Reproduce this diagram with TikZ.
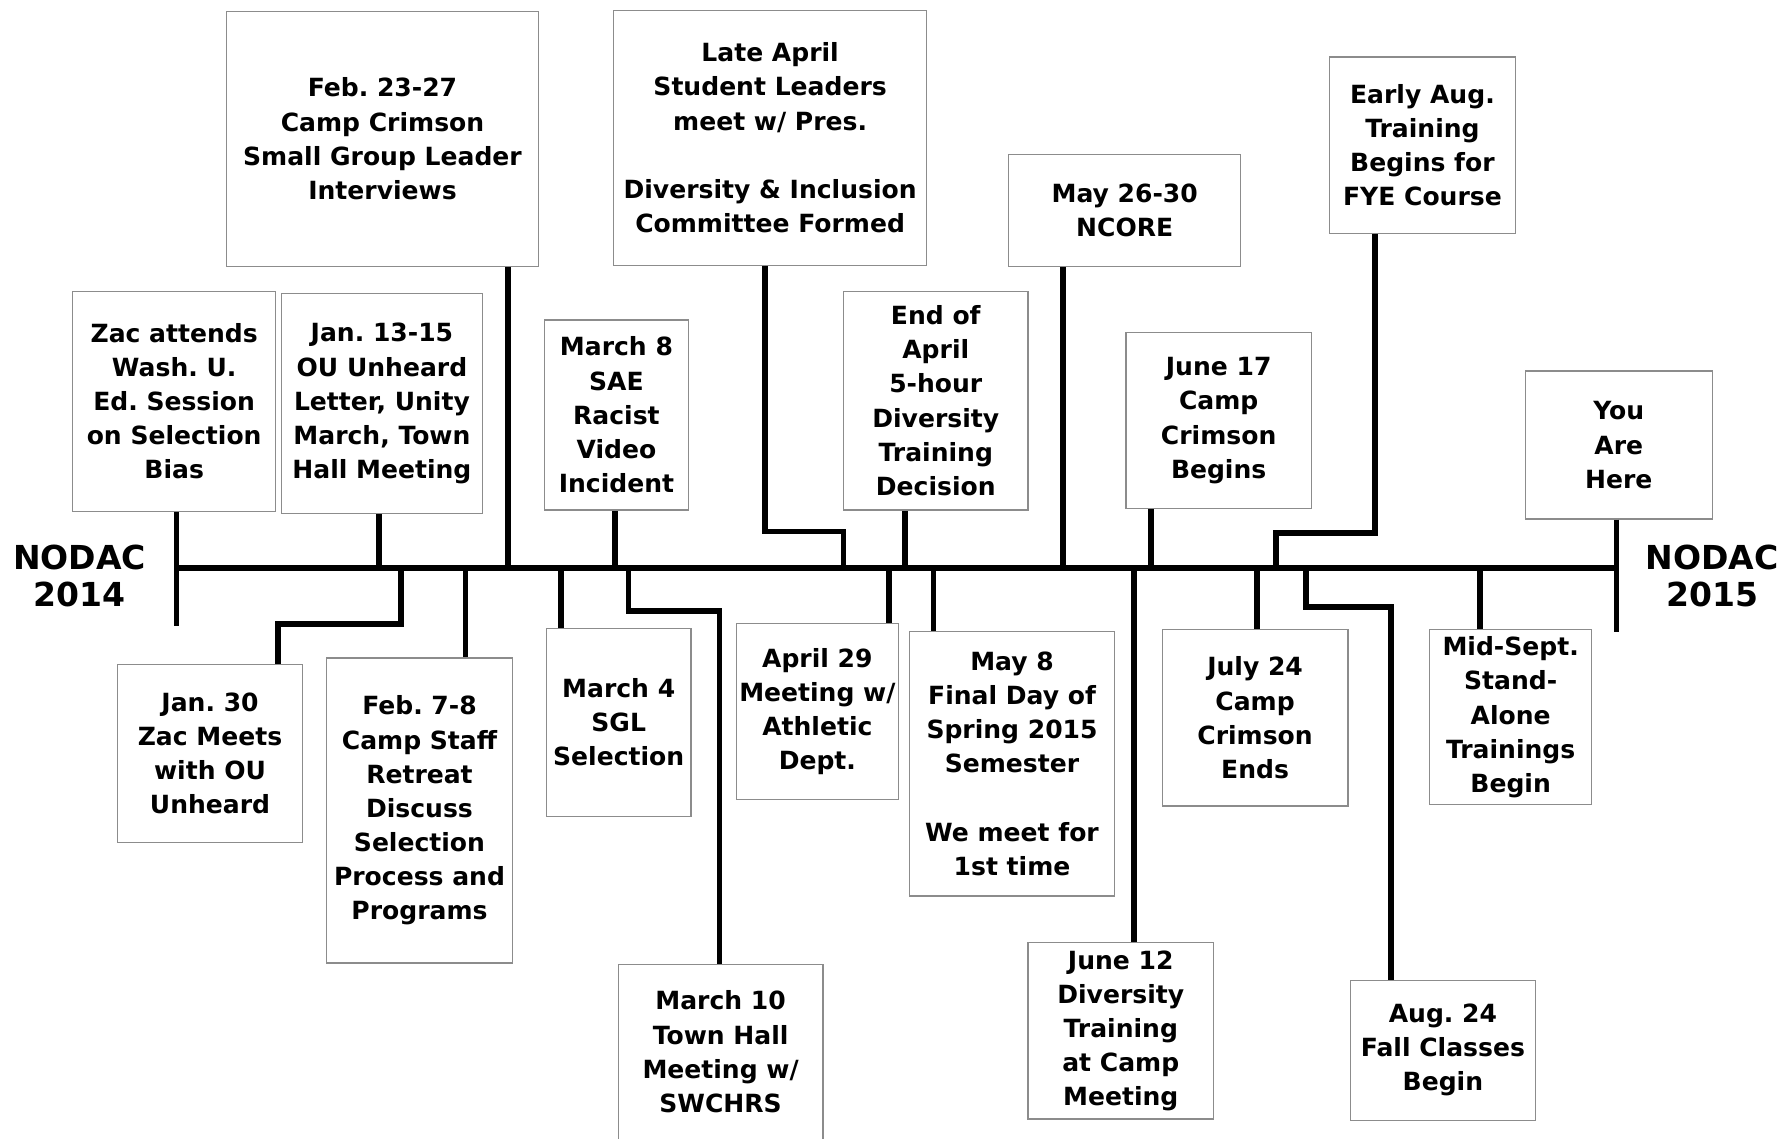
\documentclass[tikz,border=0pt]{standalone}
\usepackage{fontspec}
\setmainfont{DejaVu Sans}
\usepackage{tikz}
\usetikzlibrary{positioning,calc}
\definecolor{boxgray}{HTML}{8C8C8C}
\frenchspacing

\tikzset{
  evbox/.style={rectangle,draw=boxgray,line width=1.1pt,fill=white,inner sep=0pt,align=center,
    font=\bfseries\fontsize{22pt}{30pt}\selectfont},
  tline/.style={line width=5pt,black},
  endlbl/.style={align=center,font=\bfseries\fontsize{29pt}{33pt}\selectfont},
}

\begin{document}
\begin{tikzpicture}[x=1pt,y=-1pt]
  \path[fill=white,use as bounding box] (0,0) rectangle (1568,1000);
  % events above the line
  \node[evbox,minimum width=178pt,minimum height=193pt] (zac) at (153,352.5) {Zac attends\\Wash. U.\\Ed. Session\\on Selection\\Bias};
  \node[evbox,minimum width=177pt,minimum height=193pt] (ouletter) at (335.5,354.5) {Jan. 13-15\\OU Unheard\\Letter, Unity\\March, Town\\Hall Meeting};
  \node[evbox,minimum width=274pt,minimum height=224pt] (camp) at (336,122) {Feb. 23-27\\Camp Crimson\\Small Group Leader\\Interviews};
  \node[evbox,minimum width=127pt,minimum height=167pt] (sae) at (541.5,364.5) {March 8\\SAE\\Racist\\Video\\Incident};
  \node[evbox,minimum width=275pt,minimum height=224pt] (committee) at (676.5,121) {Late April\\Student Leaders\\meet w/ Pres.\\[30pt]Diversity \& Inclusion\\Committee Formed};
  \node[evbox,minimum width=162pt,minimum height=192pt] (decision) at (822,352) {End of\\April\\5-hour\\Diversity\\Training\\Decision};
  \node[evbox,minimum width=204pt,minimum height=98pt] (ncore) at (988,185) {May 26-30\\NCORE};
  \node[evbox,minimum width=163pt,minimum height=155pt] (campbegin) at (1070.5,369.5) {June 17\\Camp\\Crimson\\Begins};
  \node[evbox,minimum width=163pt,minimum height=155pt] (fye) at (1249.5,127.5) {Early Aug.\\Training\\Begins for\\FYE Course};
  \node[evbox,minimum width=164pt,minimum height=130pt] (here) at (1422,391) {You\\Are\\Here};
  % events below the line
  \node[evbox,minimum width=163pt,minimum height=156pt] (oumeet) at (184.5,662) {Jan. 30\\Zac Meets\\with OU\\Unheard};
  \node[evbox,minimum width=163pt,minimum height=268pt] (retreat) at (368.5,712) {Feb. 7-8\\Camp Staff\\Retreat\\Discuss\\Selection\\Process and\\Programs};
  \node[evbox,minimum width=127pt,minimum height=165pt] (sgl) at (543.5,634.5) {March 4\\SGL\\Selection};
  \node[evbox,minimum width=180pt,minimum height=154pt] (townhall) at (633,924) {March 10\\Town Hall\\Meeting w/\\SWCHRS};
  \node[evbox,minimum width=142pt,minimum height=154pt] (athletic) at (718,625) {April 29\\Meeting w/\\Athletic\\Dept.};
  \node[evbox,minimum width=180pt,minimum height=232pt] (springend) at (889,671) {May 8\\Final Day of\\Spring 2015\\Semester\\[30pt]We meet for\\1st time};
  \node[evbox,minimum width=163pt,minimum height=155pt] (camptrain) at (984.5,905.5) {June 12\\Diversity\\Training\\at Camp\\Meeting};
  \node[evbox,minimum width=163pt,minimum height=155pt] (campend) at (1102.5,630.5) {July 24\\Camp\\Crimson\\Ends};
  \node[evbox,minimum width=163pt,minimum height=123pt] (fall) at (1267.5,922.5) {Aug. 24\\Fall Classes\\Begin};
  \node[evbox,minimum width=142pt,minimum height=154pt] (midsept) at (1327,630) {Mid-Sept.\\Stand-\\Alone\\Trainings\\Begin};
  % end labels
  \node[endlbl] (nodac14) at (70,506) {NODAC\\2014};
  \node[endlbl] (nodac15) at (1504,506) {NODAC\\2015};
  % the line and its ends
  \coordinate (t-start) at (155,499);
  \coordinate (t-end) at (1420,499);
  \coordinate (e-start) at (155,550);
  \coordinate (e-end) at (1420,555);
  \draw[tline] (t-start) -- (t-end);
  \draw[tline] (e-start |- zac.south) -- (e-start);
  \draw[tline] (e-end |- here.south) -- (e-end);
  % straight ties
  \foreach \b/\x in {ouletter/333,camp/446,sae/540,decision/795,ncore/934,campbegin/1011}{
    \coordinate (t-\b) at (\x,499);
    \draw[tline] (t-\b) -- (t-\b |- \b.south);
  }
  \foreach \b/\x in {retreat/409,sgl/493,athletic/781,springend/820,camptrain/996,campend/1104,midsept/1300}{
    \coordinate (t-\b) at (\x,499);
    \draw[tline] (t-\b) -- (t-\b |- \b.north);
  }
  % bent ties
  \coordinate (k-committee) at (672,467);
  \coordinate (t-committee) at (741,499);
  \draw[tline] (k-committee |- committee.south) -- (k-committee) -| (t-committee);
  \coordinate (k-fye) at (1208,468);
  \coordinate (t-fye) at (1121,499);
  \draw[tline] (k-fye |- fye.south) -- (k-fye) -| (t-fye);
  \coordinate (t-oumeet) at (352,499);
  \coordinate (k-oumeet) at (244,548);
  \draw[tline] (t-oumeet) |- (k-oumeet) -- (k-oumeet |- oumeet.north);
  \coordinate (t-townhall) at (552,499);
  \coordinate (k-townhall) at (632,537);
  \draw[tline] (t-townhall) |- (k-townhall) -- (k-townhall |- townhall.north);
  \coordinate (t-fall) at (1147,499);
  \coordinate (k-fall) at (1222,533);
  \draw[tline] (t-fall) |- (k-fall) -- (k-fall |- fall.north);
\end{tikzpicture}
\end{document}
